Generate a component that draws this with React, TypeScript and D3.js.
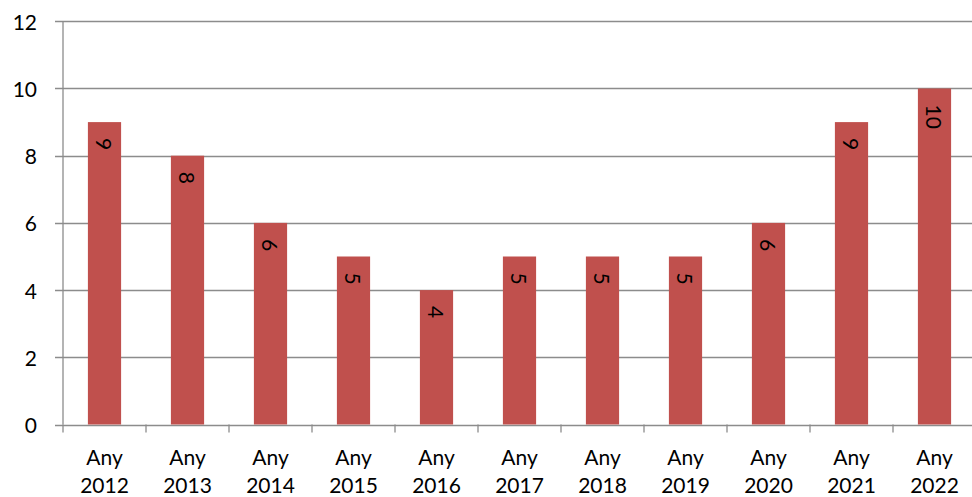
import React from 'react';
import * as d3 from 'd3';

const years = ['2012','2013','2014','2015','2016','2017','2018','2019','2020','2021','2022'];
const values = [9, 8, 6, 5, 4, 5, 5, 5, 6, 9, 10];
const yTicks = [0, 2, 4, 6, 8, 10, 12];
const prefix = 'Any';

export default function App() {
  const W = 972, H = 497;
  const left = 63, top = 21.3, bottom = 424.5;
  const step = 83;
  const right = left + step * years.length;
  const x = d3.scaleBand<string>().domain(years).range([left, right]).paddingInner(0.6).paddingOuter(0.3);
  const y = d3.scaleLinear().domain([0, 12]).range([bottom, top]);
  const font = 'Lato, "Open Sans", sans-serif';
  const grid = '#8c8c8c';
  return (
    <svg width={W} height={H} style={{ position: 'absolute', left: 0, top: 0, background: '#fff' }} fontFamily={font}>
      {yTicks.map(t => (
        <g key={t}>
          <line x1={left - 8} x2={W} y1={Math.round(y(t)) + 0.5} y2={Math.round(y(t)) + 0.5} stroke={grid} strokeWidth={1.3} />
          <text x={37} y={y(t)} textAnchor="end" dominantBaseline="central" fontSize={21} fill="#000">{t}</text>
        </g>
      ))}
      <line x1={left} x2={left} y1={top} y2={bottom} stroke={grid} strokeWidth={1.3} />
      {d3.range(years.length + 1).map(i => (
        <line key={i} x1={left + i * step} x2={left + i * step} y1={bottom} y2={bottom + 8} stroke={grid} strokeWidth={1.3} />
      ))}
      {years.map((yr, i) => {
        const bx = x(yr)!;
        const bw = x.bandwidth();
        const cx = bx + bw / 2;
        const yt = y(values[i]);
        return (
          <g key={yr}>
            <rect x={bx} y={yt} width={bw} height={bottom - yt} fill="#C0504D" />
            <text transform={`translate(${cx},${yt + 16}) rotate(90)`} textAnchor="start" dominantBaseline="central" fontSize={21} fill="#000">{values[i]}</text>
            <text x={cx} y={465} textAnchor="middle" fontSize={21} fill="#000">{prefix}</text>
            <text x={cx} y={493} textAnchor="middle" fontSize={21} fill="#000">{yr}</text>
          </g>
        );
      })}
    </svg>
  );
}
